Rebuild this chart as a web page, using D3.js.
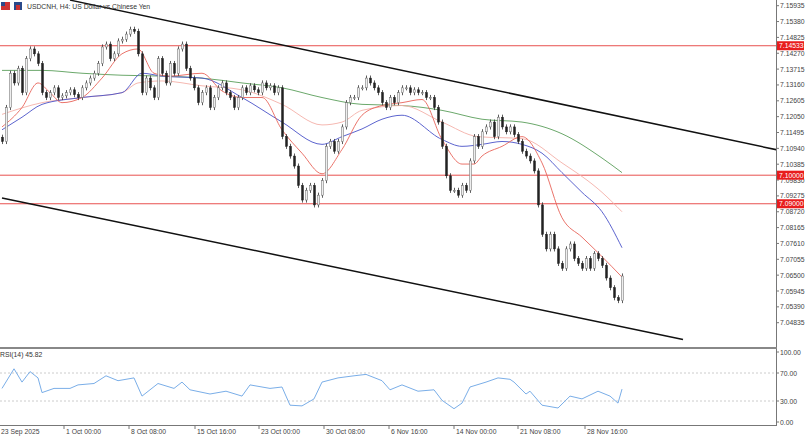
<!DOCTYPE html>
<html><head><meta charset="utf-8">
<script src="https://cdn.jsdelivr.net/npm/d3@7"></script>
<style>body{margin:0;background:#fff}svg{display:block;font-family:"Liberation Sans",Arial,sans-serif}</style>
</head><body><svg id="c" width="810" height="437"></svg>
<script>
const closes=[7.1118,7.1237,7.1357,7.1323,7.1374,7.1289,7.1408,7.1442,7.1425,7.1391,7.1289,7.1272,7.1289,7.1306,7.1272,7.1278,7.1289,7.1299,7.1282,7.1272,7.1306,7.1323,7.1340,7.1357,7.1391,7.1449,7.1459,7.1408,7.1425,7.1470,7.1476,7.1494,7.1511,7.1504,7.1425,7.1289,7.1340,7.1306,7.1272,7.1408,7.1357,7.1323,7.1391,7.1357,7.1442,7.1459,7.1374,7.1340,7.1306,7.1254,7.1289,7.1306,7.1237,7.1272,7.1306,7.1323,7.1289,7.1272,7.1237,7.1272,7.1306,7.1289,7.1313,7.1299,7.1289,7.1323,7.1306,7.1313,7.1289,7.1306,7.1135,7.1101,7.1067,7.1032,7.0964,7.0913,7.0947,7.0964,7.0896,7.0930,7.0981,7.1101,7.1118,7.1084,7.1118,7.1169,7.1254,7.1272,7.1272,7.1306,7.1306,7.1340,7.1323,7.1306,7.1289,7.1254,7.1237,7.1272,7.1254,7.1289,7.1306,7.1306,7.1289,7.1299,7.1289,7.1289,7.1272,7.1272,7.1237,7.1186,7.1101,7.0998,7.0947,7.0947,7.0930,7.0964,7.0947,7.1050,7.1135,7.1101,7.1152,7.1169,7.1186,7.1135,7.1203,7.1169,7.1152,7.1169,7.1142,7.1118,7.1084,7.1067,7.1050,7.1015,7.0896,7.0793,7.0742,7.0793,7.0742,7.0691,7.0674,7.0742,7.0759,7.0708,7.0691,7.0674,7.0708,7.0674,7.0725,7.0708,7.0684,7.0640,7.0606,7.0571,7.0561,7.0647];
const greenIdx=[0,10,20,30,40,50,60,70,80,90,100,110,120,130,140,150,155];
const greenVal=[7.1367,7.1367,7.1357,7.1350,7.1347,7.1340,7.1323,7.1306,7.1272,7.1248,7.1244,7.1227,7.1196,7.1186,7.1145,7.1060,7.1009];
const pinkIdx=[0,10,20,30,34,40,50,60,70,80,85,90,100,110,119,130,140,150,155];
const pinkVal=[7.1213,7.1254,7.1272,7.1289,7.1323,7.1330,7.1313,7.1299,7.1248,7.1176,7.1186,7.1227,7.1244,7.1186,7.1135,7.1128,7.1043,7.0940,7.0872];
const blueIdx=[0,5,10,20,30,35,40,50,60,70,80,85,90,95,100,110,115,120,125,130,135,140,145,150,155];
const blueVal=[7.1159,7.1203,7.1248,7.1272,7.1289,7.1357,7.1347,7.1340,7.1272,7.1186,7.1108,7.1135,7.1162,7.1196,7.1210,7.1125,7.1101,7.1108,7.1118,7.1108,7.1077,7.1009,7.0940,7.0872,7.0746];
const redIdx=[0,5,9,12,15,20,25,30,34,38,42,50,55,60,65,70,75,80,85,90,95,100,105,110,115,118,120,125,130,135,140,145,150,155];
const redVal=[7.1169,7.1237,7.1323,7.1289,7.1254,7.1272,7.1340,7.1425,7.1442,7.1357,7.1347,7.1357,7.1295,7.1272,7.1272,7.1159,7.1077,7.1005,7.1090,7.1210,7.1244,7.1254,7.1265,7.1125,7.1039,7.1039,7.1067,7.1101,7.1135,7.1043,7.0851,7.0783,7.0715,7.0643];
const rsiIdx=[0,3,5,7,9,10,13,17,19,23,26,29,33,35,39,43,45,47,52,56,60,62,67,70,72,75,78,80,84,88,91,95,97,100,104,108,110,113,115,117,121,124,127,128,131,132,135,139,142,145,149,152,154,155];
const rsiVal=[48,76,57,72,63,42,48,48,53,55,66,59,63,37,55,48,57,46,40,44,37,53,48,50,24,23,33,57,63,66,68,59,46,53,44,46,31,19,27,50,57,63,61,57,40,44,24,20,37,33,44,37,27,47];
const yTicks=[7.15935,7.15380,7.14825,7.14270,7.13715,7.13160,7.12605,7.12050,7.11495,7.10940,7.10385,7.09830,7.09275,7.08720,7.08165,7.07610,7.07055,7.06500,7.05945,7.05390,7.04835];
const levels=[7.14533,7.10000,7.09000];
const xLabels=["23 Sep 2025","1 Oct 00:00","8 Oct 08:00","15 Oct 16:00","23 Oct 00:00","30 Oct 08:00","6 Nov 16:00","14 Nov 00:00","21 Nov 08:00","28 Nov 16:00"];
const xLabelIdx=[-0.75,15.5,31.75,48.25,64.25,80.5,96.75,113,129,145.75];
const upperTrend=[[17,7.1613],[194,7.1088]];
const lowerTrend=[[0,7.0920],[170.25,7.0425]];
const rsiLevels=[70,30], rsiTicks=[100,70,30,0];

const svg=d3.select("#c");
const x=d3.scaleLinear().domain([0,194]).range([2,778]);
const y=d3.scaleLinear().domain([7.15935,7.04835]).range([5.7,322.7]);
const yr=d3.scaleLinear().domain([0,100]).range([422,352]);
const AX=776, FS=6.8;
const main=svg.append("g");
main.append("defs").append("clipPath").attr("id","cm").append("rect").attr("width",AX).attr("height",347);
const g=main.append("g").attr("clip-path","url(#cm)");
levels.forEach(l=>g.append("line").attr("x1",0).attr("x2",AX).attr("y1",y(l)).attr("y2",y(l)).attr("stroke","#e8504f").attr("stroke-width",1));
const line=d3.line().x(d=>x(d[0])).y(d=>y(d[1])).curve(d3.curveMonotoneX);
[[greenIdx,greenVal,"#5a9e5a"],[pinkIdx,pinkVal,"#f4b0a8"],[blueIdx,blueVal,"#4a52c8"],[redIdx,redVal,"#e8645a"]].forEach(([i,v,c])=>{
 g.append("path").attr("d",line(i.map((d,k)=>[d,v[k]]))).attr("fill","none").attr("stroke",c).attr("stroke-width",0.9);});
const wick=0.0009;
closes.forEach((c,i)=>{
 const o=i?closes[i-1]:c+0.0015; const hi=Math.max(o,c)+wick, lo=Math.min(o,c)-wick;
 const cx=Math.round(x(i))+0.5;
 g.append("line").attr("x1",cx).attr("x2",cx).attr("y1",y(hi)).attr("y2",y(lo)).attr("stroke","#333").attr("stroke-width",0.8);
 const top=y(Math.max(o,c)), h=Math.max(1,Math.abs(y(o)-y(c)));
 g.append("rect").attr("x",cx-1).attr("y",top).attr("width",2).attr("height",h)
  .attr("fill",c>=o?"#eee":"#222").attr("stroke",c>=o?"#666":"#222").attr("stroke-width",0.5);
});
[upperTrend,lowerTrend].forEach(t=>g.append("line").attr("x1",x(t[0][0])).attr("y1",y(t[0][1])).attr("x2",x(t[1][0])).attr("y2",y(t[1][1])).attr("stroke","#111").attr("stroke-width",1.5));
svg.append("line").attr("x1",AX+0.5).attr("x2",AX+0.5).attr("y1",0).attr("y2",426).attr("stroke","#777");
yTicks.forEach(t=>{
 svg.append("line").attr("x1",AX).attr("x2",AX+3).attr("y1",y(t)).attr("y2",y(t)).attr("stroke","#777");
 svg.append("text").attr("x",AX+4).attr("y",y(t)+2.5).attr("font-size",FS).attr("fill","#444").text(t.toFixed(5));});
levels.forEach(l=>{
 svg.append("rect").attr("x",AX+1).attr("y",y(l)-4.5).attr("width",27).attr("height",9).attr("fill","#e81d1d");
 svg.append("text").attr("x",AX+3).attr("y",y(l)+2.5).attr("font-size",FS).attr("fill","#fff").text(l.toFixed(5));});
svg.append("rect").attr("x",0).attr("y",347).attr("width",AX+1).attr("height",2).attr("fill","#888");
rsiLevels.forEach(l=>svg.append("line").attr("x1",0).attr("x2",AX).attr("y1",yr(l)).attr("y2",yr(l)).attr("stroke","#ccc").attr("stroke-dasharray","2,2"));
svg.append("path").attr("d",d3.line().x(d=>x(d)).y((d,k)=>yr(rsiVal[k]))(rsiIdx)).attr("fill","none").attr("stroke","#7aaee8").attr("stroke-width",1);
rsiTicks.forEach(t=>{
 svg.append("line").attr("x1",AX).attr("x2",AX+3).attr("y1",yr(t)).attr("y2",yr(t)).attr("stroke","#777");
 svg.append("text").attr("x",AX+4).attr("y",yr(t)+2.5).attr("font-size",FS).attr("fill","#444").text(t.toFixed(2));});
svg.append("text").attr("x",0).attr("y",357).attr("font-size",FS).attr("fill","#333").text("RSI(14) 45.82");
svg.append("line").attr("x1",0).attr("x2",AX).attr("y1",425.5).attr("y2",425.5).attr("stroke","#777");
xLabels.forEach((l,k)=>{
 const xx=x(xLabelIdx[k]);
 svg.append("line").attr("x1",xx).attr("x2",xx).attr("y1",425).attr("y2",429).attr("stroke","#777");
 svg.append("text").attr("x",xx+2).attr("y",434).attr("font-size",FS).attr("fill","#444").text(l);});
svg.append("rect").attr("x",1).attr("y",2).attr("width",9).attr("height",8).attr("fill","#c33");
svg.append("rect").attr("x",1).attr("y",2).attr("width",4).attr("height",4).attr("fill","#2a4a8a");
svg.append("rect").attr("x",14).attr("y",2).attr("width",8).attr("height",8).attr("fill","#2a4a8a");
svg.append("rect").attr("x",16).attr("y",5).attr("width",4).attr("height",5).attr("fill","#c33");
svg.append("text").attr("x",27).attr("y",9).attr("font-size",FS).attr("fill","#333").text("USDCNH, H4:  US Dollar vs Chinese Yen");
</script></body></html>
